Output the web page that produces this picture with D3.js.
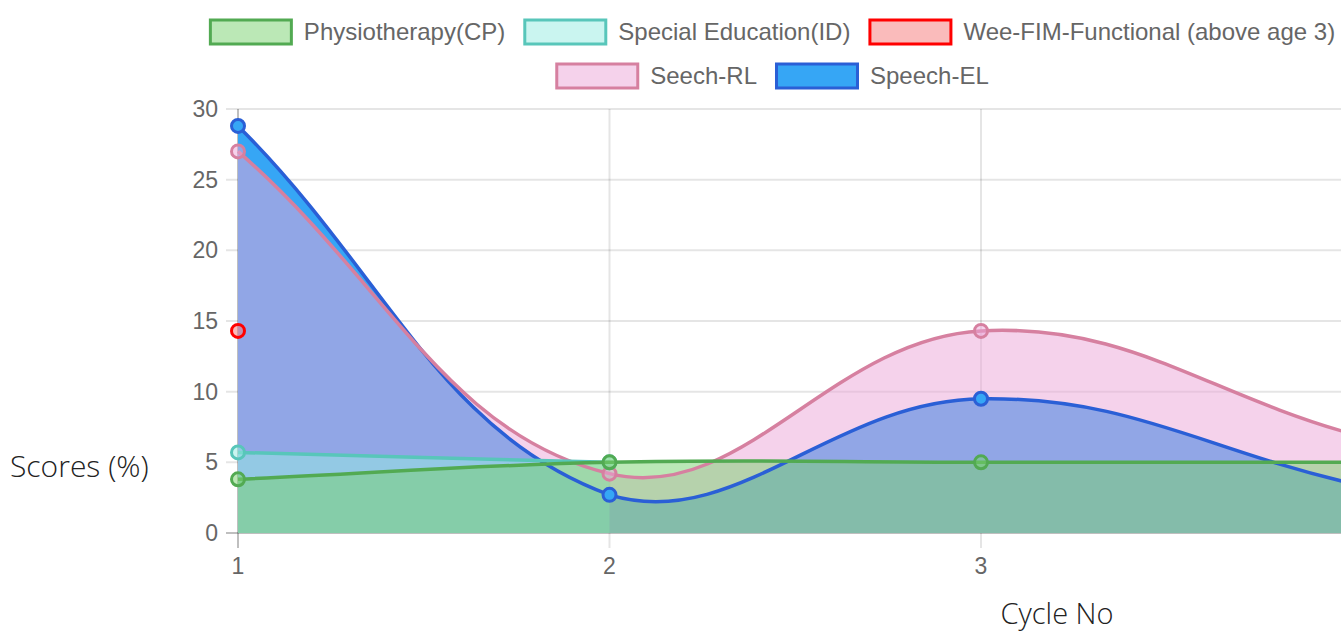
<!DOCTYPE html>
<html>
<head>
<meta charset="utf-8">
<script src="https://cdn.jsdelivr.net/npm/d3@7.9.0/dist/d3.min.js"></script>
<style>
  html, body { margin: 0; padding: 0; background: #fff; overflow: hidden; }
  svg { display: block; }
</style>
</head>
<body>
<svg id="chart" width="1341" height="633"></svg>
<script>
// data
const cycles = [1, 2, 3, 4];
const yTicks = [0, 5, 10, 15, 20, 25, 30];
const physio = [3.8, 5, 5, 5];
const specialEd = [5.7, 5, null, null];
const weeFim = [14.3, null, null, null];
const speechRL = [27, 4.2, 14.3, 7];
const speechEL = [28.8, 2.7, 9.5, 3.5];

const seriesNames = ['Physiotherapy(CP)', 'Special Education(ID)', 'Wee-FIM-Functional (above age 3)', 'Seech-RL', 'Speech-EL'];
const seriesValues = [physio, specialEd, weeFim, speechRL, speechEL];
const borderColors = ['rgb(82,170,82)', 'rgb(88,198,186)', 'rgb(255,0,0)', 'rgb(214,128,160)', 'rgb(42,95,214)'];
const fillColors = ['rgba(120,210,110,0.5)', 'rgba(150,235,225,0.5)', 'rgba(245,120,120,0.5)', 'rgba(235,165,215,0.5)', 'rgb(54,166,245)'];

const W = 1341;
const svg = d3.select('#chart');
const area = { left: 238, right: 1352.5, top: 109, bottom: 533 };

const x = d3.scaleLinear().domain([1, 4]).range([area.left, area.right]);
const y = d3.scaleLinear().domain([0, 30]).range([area.bottom, area.top]);

/*grid*/
const grid = svg.append('g');
grid.selectAll('line.h')
  .data(yTicks)
  .join('line')
  .attr('x1', area.left - 12).attr('x2', W)
  .attr('y1', d => y(d)).attr('y2', d => y(d))
  .attr('stroke', d => d === 0 ? 'rgba(0,0,0,0.25)' : 'rgba(0,0,0,0.1)')
  .attr('stroke-width', 2);
grid.selectAll('line.v')
  .data(cycles)
  .join('line')
  .attr('x1', d => x(d)).attr('x2', d => x(d))
  .attr('y1', area.top).attr('y2', area.bottom + 15)
  .attr('stroke', (d, i) => i === 0 ? 'rgba(0,0,0,0.25)' : 'rgba(0,0,0,0.1)')
  .attr('stroke-width', 2);

/*tick labels*/
svg.append('g').selectAll('text')
  .data(yTicks)
  .join('text')
  .attr('x', area.left - 20)
  .attr('y', d => y(d))
  .attr('dy', '0.35em')
  .attr('text-anchor', 'end')
  .attr('font-family', 'Liberation Sans, Arial, sans-serif')
  .attr('font-size', 23)
  .attr('fill', '#666')
  .text(d => d);
// the last cycle label falls outside the window, as in the picture
svg.append('g').selectAll('text')
  .data(cycles.filter(c => x(c) < W - 10))
  .join('text')
  .attr('x', d => x(d))
  .attr('y', 566)
  .attr('dy', '0.35em')
  .attr('text-anchor', 'middle')
  .attr('font-family', 'Liberation Sans, Arial, sans-serif')
  .attr('font-size', 23)
  .attr('fill', '#666')
  .text(d => d);

//chart.js style spline (tension 0.4), control points capped to the chart area
function splinePath(pts) {
  const t = 0.4;
  const cap = (px, py) => [Math.max(area.left, Math.min(area.right, px)), Math.max(area.top, Math.min(area.bottom, py))];
  const cps = pts.map((p, i) => {
    const prev = pts[i - 1] || p;
    const next = pts[i + 1] || p;
    const d01 = Math.hypot(p[0] - prev[0], p[1] - prev[1]);
    const d12 = Math.hypot(next[0] - p[0], next[1] - p[1]);
    const s01 = d01 / (d01 + d12) || 0;
    const s12 = d12 / (d01 + d12) || 0;
    const fa = t * s01, fb = t * s12;
    return {
      prev: cap(p[0] - fa * (next[0] - prev[0]), p[1] - fa * (next[1] - prev[1])),
      next: cap(p[0] + fb * (next[0] - prev[0]), p[1] + fb * (next[1] - prev[1]))
    };
  });
  const path = d3.path();
  path.moveTo(pts[0][0], pts[0][1]);
  for (let i = 1; i < pts.length; i++) {
    const a = cps[i - 1].next, b = cps[i].prev;
    path.bezierCurveTo(a[0], a[1], b[0], b[1], pts[i][0], pts[i][1]);
  }
  return path.toString();
}

const series = seriesValues.map((vals, k) => {
  const pts = cycles
    .map((c, i) => [c, vals[i]])
    .filter(d => d[1] !== null)
    .map(d => [x(d[0]), y(d[1])]);
  return { k, pts, line: pts.length > 1 ? splinePath(pts) : null };
});
// last dataset is drawn first, first one ends on top
const drawOrder = series.slice().reverse();

/*fills first, all of them*/
const fills = svg.append('g');
drawOrder.filter(s => s.line).forEach(s => {
  const last = s.pts[s.pts.length - 1];
  fills.append('path')
    .attr('d', s.line + `L${last[0]},${y(0)}L${s.pts[0][0]},${y(0)}Z`)
    .attr('fill', fillColors[s.k]);
});

/*then lines and points*/
const marks = svg.append('g');
drawOrder.forEach(s => {
  const g = marks.append('g');
  if (s.line) {
    g.append('path')
      .attr('d', s.line)
      .attr('fill', 'none')
      .attr('stroke', borderColors[s.k])
      .attr('stroke-width', 3.5);
  }
  g.selectAll('circle')
    .data(s.pts)
    .join('circle')
    .attr('cx', d => d[0])
    .attr('cy', d => d[1])
    .attr('r', 6.5)
    .attr('fill', fillColors[s.k])
    .attr('stroke', borderColors[s.k])
    .attr('stroke-width', 3);
});

/*legend*/
const legendRows = [[0, 1, 2], [3, 4]];
const legendCenter = 772;
const legend = svg.append('g');
legendRows.forEach((row, r) => {
  const cy = 32 + r * 44;
  const items = row.map(k => {
    const g = legend.append('g');
    g.append('rect')
      .attr('x', 1.5)
      .attr('width', 81).attr('height', 24)
      .attr('y', cy - 12)
      .attr('fill', fillColors[k])
      .attr('stroke', borderColors[k])
      .attr('stroke-width', 3);
    const txt = g.append('text')
      .attr('x', 95)
      .attr('y', cy)
      .attr('dy', '0.35em')
      .attr('font-family', 'Liberation Sans, Arial, sans-serif')
      .attr('font-size', 24)
      .attr('fill', '#666')
      .text(seriesNames[k]);
    return { g, w: 95 + txt.node().getComputedTextLength() };
  });
  const gap = 18;
  const total = d3.sum(items, d => d.w) + gap * (items.length - 1);
  let cx = legendCenter - total / 2;
  items.forEach(it => {
    it.g.attr('transform', `translate(${cx},0)`);
    cx += it.w + gap;
  });
});

/*axis titles*/
svg.append('text')
  .attr('x', 10).attr('y', 466)
  .attr('dy', '0.35em')
  .attr('font-family', 'Open Sans, Noto Sans, sans-serif')
  .attr('font-size', 30)
  .attr('font-weight', 300)
  .attr('fill', '#222')
  .text('Scores (%)');
svg.append('text')
  .attr('x', 1057).attr('y', 614)
  .attr('dy', '0.35em')
  .attr('text-anchor', 'middle')
  .attr('font-family', 'Open Sans, Noto Sans, sans-serif')
  .attr('font-size', 29)
  .attr('font-weight', 300)
  .attr('fill', '#222')
  .text('Cycle No');
</script>
</body>
</html>
